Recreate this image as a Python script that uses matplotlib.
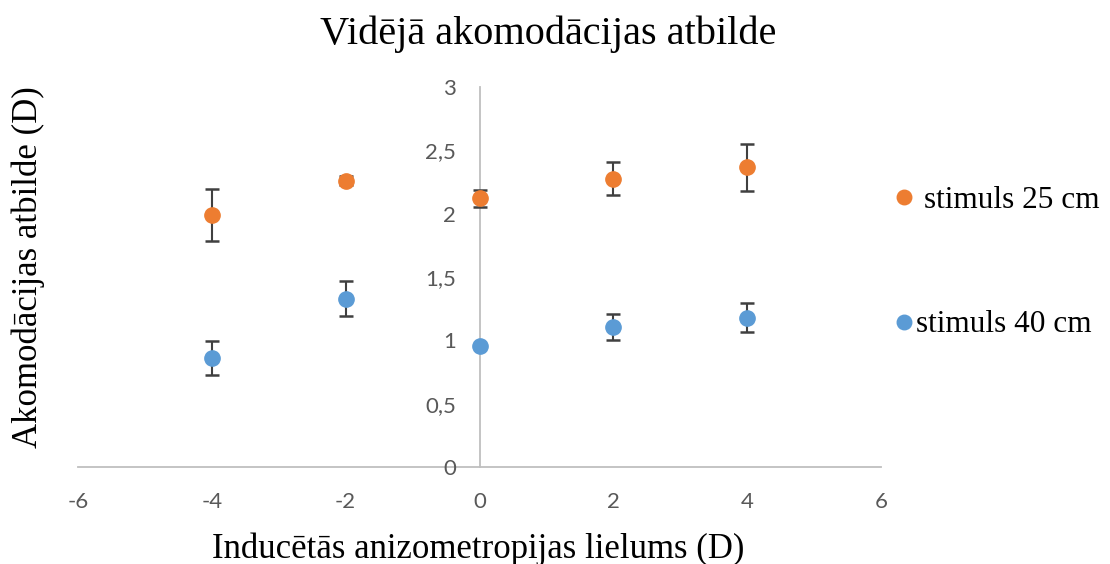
import matplotlib
matplotlib.use("Agg")
import matplotlib.pyplot as plt

x_vals = [-4, -2, 0, 2, 4]
y_25 = [1.99, 2.26, 2.12, 2.275, 2.365]
err_25 = [0.205, 0.035, 0.07, 0.13, 0.185]
y_40 = [0.86, 1.33, 0.955, 1.105, 1.18]
err_40 = [0.135, 0.135, 0.0, 0.10, 0.115]

title = "Vidējā akomodācijas atbilde"
xlabel = "Inducētās anizometropijas lielums (D)"
ylabel = "Akomodācijas atbilde (D)"
label_25 = "stimuls 25 cm"
label_40 = "stimuls 40 cm"
xticks = [-6, -4, -2, 0, 2, 4, 6]
yticks = [0, 0.5, 1, 1.5, 2, 2.5, 3]
ytick_labels = ["0", "0,5", "1", "1,5", "2", "2,5", "3"]

c_orange = "#ED7D31"
c_blue = "#5B9BD5"
c_err = "#404040"
c_axis = "#BFBFBF"
c_tick = "#595959"

W, H = 1110, 564
fig = plt.figure(figsize=(W / 100, H / 100), dpi=100)
ax = fig.add_axes([78 / W, 1 - 467 / H, (881 - 78) / W, (467 - 87) / H])

e25 = ax.errorbar(x_vals, y_25, yerr=err_25, fmt="o", color=c_orange, ecolor=c_err,
                  elinewidth=1.5, capsize=5, capthick=1.8, markersize=11, label=label_25, zorder=3)
e40 = ax.errorbar(x_vals, y_40, yerr=err_40, fmt="o", color=c_blue, ecolor=c_err,
                  elinewidth=1.5, capsize=5, capthick=1.8, markersize=11, label=label_40, zorder=3)

ax.set_xlim(-6, 6)
ax.set_ylim(0, 3)
ax.spines["left"].set_position(("data", 0))
ax.spines["bottom"].set_position(("data", 0))
ax.spines["top"].set_visible(False)
ax.spines["right"].set_visible(False)
for s in ("left", "bottom"):
    ax.spines[s].set_color(c_axis)
    ax.spines[s].set_linewidth(1.3)
    ax.spines[s].set_zorder(1)

ax.set_xticks(xticks)
ax.set_xticklabels([str(t) for t in xticks])
ax.set_yticks(yticks)
ax.set_yticklabels(ytick_labels)
ax.tick_params(axis="x", length=0, pad=18, labelsize=16, labelcolor=c_tick)
ax.tick_params(axis="y", length=0, pad=17, labelsize=16, labelcolor=c_tick)
for lbl in ax.get_xticklabels() + ax.get_yticklabels():
    lbl.set_fontfamily("Lato")

fig.text(548 / W, 1 - 34 / H, title, ha="center", va="center",
         family="Liberation Serif", fontsize=29)
fig.text(478 / W, 1 - 549 / H, xlabel, ha="center", va="center",
         family="Liberation Serif", fontsize=25)
fig.text(28 / W, 1 - 267 / H, ylabel, ha="center", va="center", rotation=90,
         family="Liberation Serif", fontsize=25)

leg_prop = {"family": "Liberation Serif", "size": 22.5}
fig.legend([e25[0]], [label_25], loc="center left", bbox_to_anchor=(888 / W, 1 - 200 / H),
           frameon=False, prop=leg_prop, handletextpad=0.15, handlelength=1.0,
           borderpad=0, borderaxespad=0, markerscale=0.95)
fig.legend([e40[0]], [label_40], loc="center left", bbox_to_anchor=(888 / W, 1 - 325 / H),
           frameon=False, prop=leg_prop, handletextpad=-0.1, handlelength=1.0,
           borderpad=0, borderaxespad=0, markerscale=0.95)

fig.savefig("out.png", dpi=100)
